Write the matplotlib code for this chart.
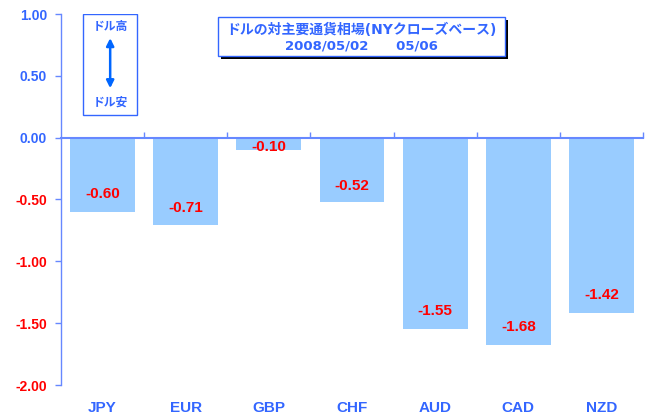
import matplotlib
matplotlib.use("Agg")
import matplotlib.pyplot as plt
from matplotlib.patches import Rectangle

plt.rcParams['font.family'] = ['Liberation Sans', 'Noto Sans CJK JP', 'DejaVu Sans']

currencies = ["JPY", "EUR", "GBP", "CHF", "AUD", "CAD", "NZD"]
changes = [-0.60, -0.71, -0.10, -0.52, -1.55, -1.68, -1.42]
y_ticks = [1.0, 0.5, 0.0, -0.5, -1.0, -1.5, -2.0]
title_lines = ["ドルの対主要通貨相場(NYクローズベース)", "2008/05/02      05/06"]
legend_top = "ドル高"
legend_bottom = "ドル安"

BLUE = "#3366ff"
AXIS = "#6688ff"
RED = "#ff0000"
BAR = "#99ccff"
WIDE = ['DejaVu Sans', 'Noto Sans CJK JP']

fig = plt.figure(figsize=(6.46, 4.15), dpi=100)
ax = fig.add_axes([61 / 646, 30 / 415, 582 / 646, 371 / 415])

x = list(range(len(currencies)))
ax.bar(x, changes, width=0.78, color=BAR, zorder=2)

ax.set_xlim(-0.5, len(currencies) - 0.5)
ax.set_ylim(-2.0, 1.0)

# zero line as the category axis with boundary ticks
for s in ["top", "right"]:
    ax.spines[s].set_visible(False)
ax.spines["bottom"].set_position(("data", 0))
ax.spines["bottom"].set_color(AXIS)
ax.spines["bottom"].set_linewidth(1.5)
ax.spines["bottom"].set_zorder(3)
ax.spines["left"].set_color(AXIS)
ax.spines["left"].set_linewidth(1.0)

ax.set_xticks([i + 0.5 for i in x])
ax.set_xticklabels([])
ax.tick_params(axis="x", direction="in", length=4, color=AXIS, width=1)

ax.set_yticks(y_ticks)
ax.set_yticklabels(["%.2f" % t for t in y_ticks], fontsize=10, fontweight="bold")
ax.tick_params(axis="y", direction="out", length=4, color=AXIS, width=1, pad=6)
for lab, t in zip(ax.get_yticklabels(), y_ticks):
    lab.set_color(BLUE if t >= 0 else RED)

# category names below the plot
for i, name in zip(x, currencies):
    ax.text(i, -0.062, name, transform=ax.get_xaxis_transform(), ha="center", va="center",
            fontsize=11, fontweight="bold", color=BLUE)

# value labels near the bar ends
for i, v in zip(x, changes):
    off = min(0.145, abs(v) * 0.25)
    ax.text(i, v + off, "%.2f" % v, ha="center", va="center", fontsize=11,
            fontweight="bold", color=RED, zorder=4)

# direction box
ax.add_patch(Rectangle((0.038, 0.728), 0.093, 0.272, transform=ax.transAxes,
                       facecolor="white", edgecolor=BLUE, linewidth=1, zorder=5))
ax.text(0.0845, 0.964, legend_top, transform=ax.transAxes, ha="center", va="center",
        fontsize=8.5, fontweight="bold", color=BLUE, zorder=6)
ax.text(0.0845, 0.76, legend_bottom, transform=ax.transAxes, ha="center", va="center",
        fontsize=8.5, fontweight="bold", color=BLUE, zorder=6)
ax.annotate("", xy=(0.0845, 0.935), xytext=(0.0845, 0.8), xycoords="axes fraction",
            arrowprops=dict(arrowstyle="<|-|>", color="#0066ff", lw=1.8,
                            mutation_scale=11, shrinkA=0, shrinkB=0), zorder=6)

# title box with shadow
ax.add_patch(Rectangle((0.2745, 0.879), 0.493, 0.105, transform=ax.transAxes,
                       facecolor="black", edgecolor="black", linewidth=0, zorder=5))
ax.add_patch(Rectangle((0.2698, 0.887), 0.493, 0.105, transform=ax.transAxes,
                       facecolor="white", edgecolor=BLUE, linewidth=1, zorder=6))
ax.text(0.516, 0.957, title_lines[0], transform=ax.transAxes, ha="center", va="center",
        fontsize=10, fontweight="bold", color=BLUE, zorder=7, family=WIDE)
ax.text(0.516, 0.914, title_lines[1], transform=ax.transAxes, ha="center", va="center",
        fontsize=9.5, fontweight="bold", color=BLUE, zorder=7, family=WIDE)

fig.savefig("out.png", dpi=100)
